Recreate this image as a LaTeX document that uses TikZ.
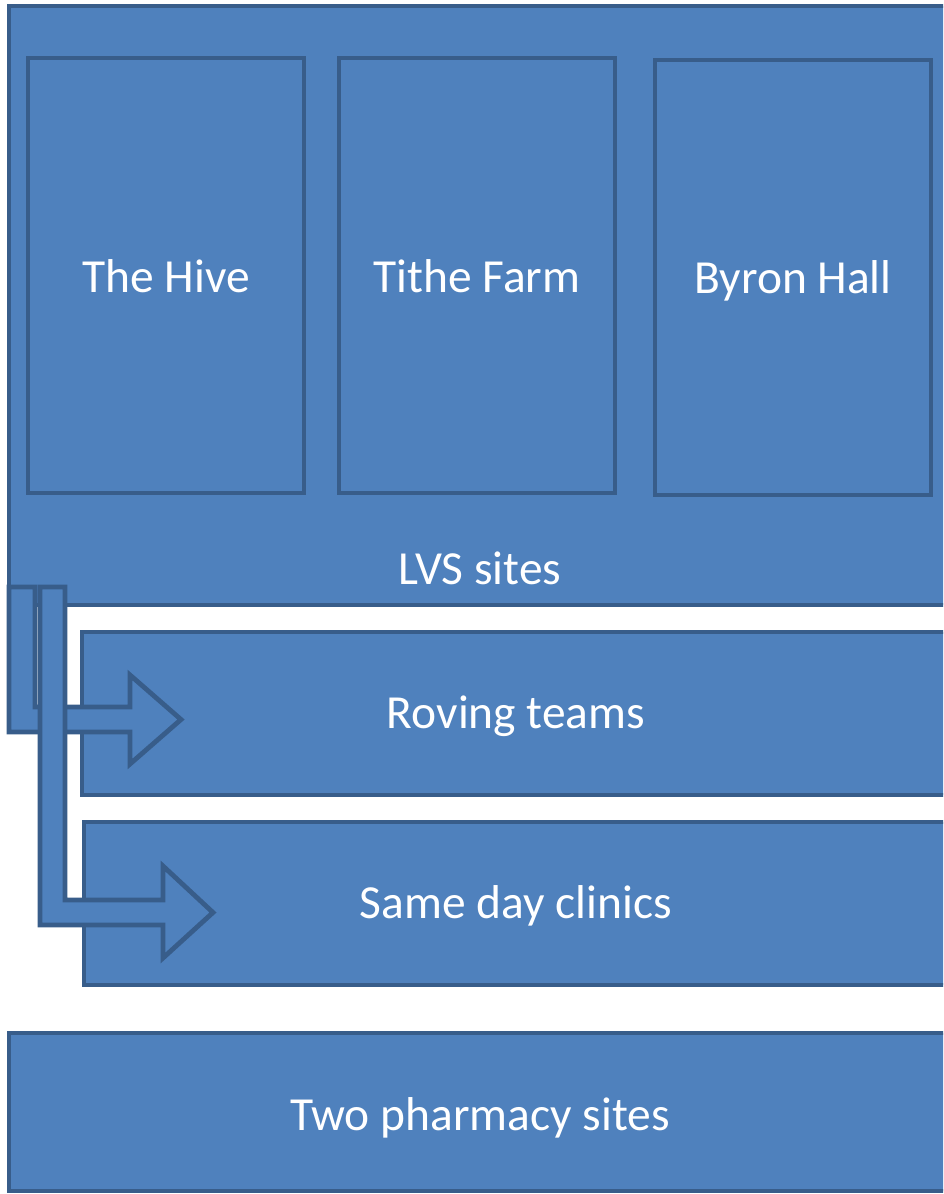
\documentclass[tikz,border=0pt]{standalone}
\usepackage{fontspec}
\setmainfont{Carlito}
\usetikzlibrary{fit}
\definecolor{boxfill}{HTML}{4F81BD}
\definecolor{boxline}{HTML}{385D8A}
\tikzset{
  box/.style={draw=boxline, fill=boxfill, line width=3.6pt, inner sep=0pt, rectangle},
  blockarrow/.style={draw=boxline, fill=boxfill, line width=3.6pt, line join=miter},
  txt/.style={text=white, font=\fontsize{35.6}{42}\selectfont, inner sep=0pt, anchor=base}
}
\begin{document}
\begin{tikzpicture}[x=0.75pt,y=-0.75pt]
\useasboundingbox (0,0) rectangle (943,1194);
\clip (0,0) rectangle (943,1194);
% LVS outer box
\node[box, fit={(9,6) (990,605)}] (lvs) {};
\node[box, fit={(28,58) (304,493)}] (hive) {};
\node[box, fit={(339,58) (615,493)}] (tithe) {};
\node[box, fit={(655,60) (931,495)}] (byron) {};
\node[txt] (hivelabel) at (166,292) {The Hive};
\node[txt] (tithelabel) at (477,292) {Tithe Farm};
\node[txt] (byronlabel) at (793,293) {Byron Hall};
\node[txt] (lvslabel) at (480,584) {LVS sites};
% Roving teams / Same day clinics
\node[box, fit={(82,632) (990,795)}] (roving) {};
\node[box, fit={(84,822) (990,985)}] (sameday) {};
% block arrows
\draw[blockarrow] (9,587) -- (35,587) -- (35,707) -- (130,707) -- (130,675) -- (181,719.5)
  -- (130,764) -- (130,732) -- (9,732) -- cycle;
\draw[blockarrow] (40,587) -- (65,587) -- (65,900) -- (163,900) -- (163,866) -- (213,912.5)
  -- (163,958) -- (163,925) -- (40,925) -- cycle;
\node[txt] (rovinglabel) at (516,728) {Roving teams};
\node[txt] (samedaylabel) at (516,918) {Same day clinics};
% pharmacy
\node[box, fit={(9,1033) (990,1191)}] (pharm) {};
\node[txt] (pharmlabel) at (480,1130) {Two pharmacy sites};
\end{tikzpicture}
\end{document}
